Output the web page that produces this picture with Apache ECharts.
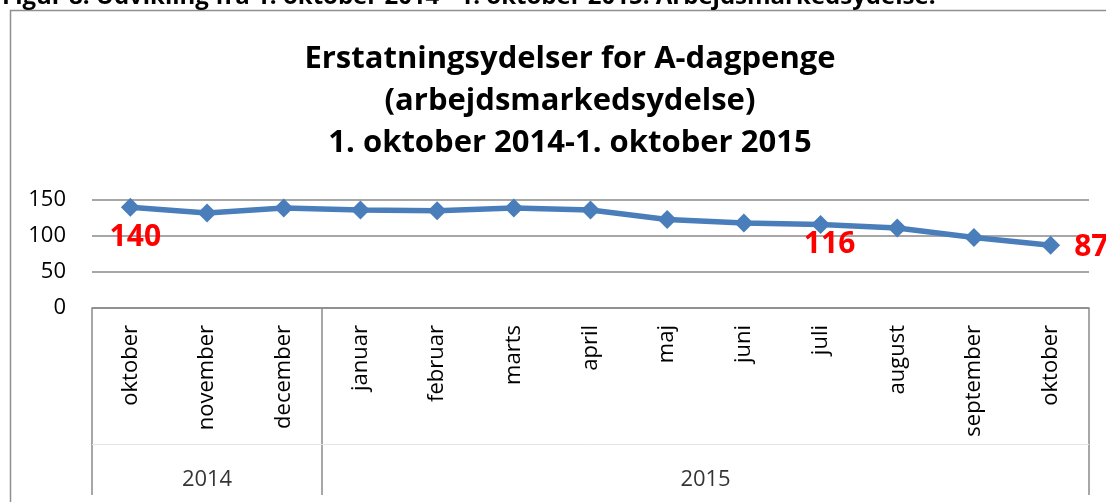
<!DOCTYPE html>
<html>
<head>
<meta charset="utf-8">
<script src="https://cdn.jsdelivr.net/npm/echarts@6/dist/echarts.min.js"></script>
<style>
  html, body { margin: 0; padding: 0; background: #fff; }
  #chart { width: 1106px; height: 502px; }
</style>
</head>
<body>
<div id="chart"></div>
<script>
// data
var months = ['oktober', 'november', 'december', 'januar', 'februar', 'marts', 'april',
  'maj', 'juni', 'juli', 'august', 'september', 'oktober'];
var values = [140, 132, 139, 136, 135, 139, 136, 123, 118, 116, 111, 98, 87];
var years = ['2014', '2015'];
var yearSpan = [3, 10]; // antal måneder pr. år
var yTicks = [0, 50, 100, 150];
var labeled = [0, 9, 12]; // punkter med rød værdi

var FONT = 'Open Sans';
var GRID_COLOR = '#8a8a8a';

// året midt i sit spænd + skillelinjer
var yearData = [];
var bounds = [0];
var acc = 0;
years.forEach(function (y, i) {
  yearData.push({ name: y, value: [acc + yearSpan[i] / 2, 0.08] });
  acc += yearSpan[i];
  bounds.push(acc);
});

var lineData = values.map(function (v, i) {
  if (labeled.indexOf(i) < 0) return v;
  var lbl = { show: true, color: '#ff0000', fontSize: 30, fontWeight: 'bold', fontFamily: FONT };
  if (i === 0) { lbl.position = 'bottom'; lbl.distance = 2; lbl.offset = [5, 4]; }
  else if (i === labeled[1]) { lbl.position = 'bottom'; lbl.distance = 0; lbl.offset = [9, -5]; }
  else { lbl.position = 'right'; lbl.distance = 14; lbl.offset = [0, 2]; }
  return { value: v, label: lbl };
});

var chart = echarts.init(document.getElementById('chart'));
chart.setOption({
  animation: false,
  backgroundColor: '#fff',
  graphic: [
    {
      type: 'rect', z: -10, silent: true,
      shape: { x: 10.5, y: 10.5, width: 1200, height: 600 },
      style: { fill: '#fff', stroke: '#8f8f8f', lineWidth: 1.5 }
    },
    {
      type: 'text', silent: true,
      style: {
        text: 'Figur 8. Udvikling fra 1. oktober 2014 - 1. oktober 2015. Arbejdsmarkedsydelse.',
        x: 2, y: 9, verticalAlign: 'bottom',
        font: 'bold 24px "Open Sans"', fill: '#000'
      }
    }
  ],
  title: {
    text: 'Erstatningsydelser for A-dagpenge\n(arbejdsmarkedsydelse)\n1. oktober 2014-1. oktober 2015',
    left: 565, top: 33, textAlign: 'center',
    textStyle: { fontFamily: FONT, fontSize: 31, fontWeight: 'bold', color: '#000', lineHeight: 42 }
  },
  grid: [
    { left: 92, right: 17, top: 200, bottom: 194 },
    { left: 92, right: 17, top: 308, bottom: 7 }
  ],
  xAxis: [
    {
      type: 'category', gridIndex: 0, data: months, boundaryGap: true,
      axisLine: { lineStyle: { color: GRID_COLOR, width: 1.5 } },
      axisTick: { show: false },
      axisLabel: { rotate: 90, margin: 17, fontFamily: FONT, fontSize: 22, color: '#000', interval: 0 }
    },
    { type: 'value', gridIndex: 1, min: 0, max: bounds[bounds.length - 1], show: false }
  ],
  yAxis: [
    {
      type: 'value', gridIndex: 0, min: yTicks[0], max: yTicks[yTicks.length - 1], interval: 50,
      axisLine: { show: false }, axisTick: { show: false },
      splitLine: { lineStyle: { color: GRID_COLOR, width: 1.5 } },
      axisLabel: { margin: 26, fontFamily: FONT, fontSize: 22, color: '#000' }
    },
    { type: 'value', gridIndex: 1, min: 0, max: 1, show: false }
  ],
  series: [
    {
      type: 'line', data: lineData,
      symbol: 'diamond', symbolSize: 19,
      lineStyle: { color: '#4a7ebb', width: 5.5 },
      itemStyle: { color: '#4a7ebb' },
      label: { show: false }
    },
    {
      type: 'scatter', xAxisIndex: 1, yAxisIndex: 1, symbolSize: 0,
      data: yearData,
      label: { show: true, position: 'inside', formatter: '{b}', fontFamily: FONT, fontSize: 22, color: '#000' },
      markLine: {
        silent: true, symbol: 'none', animation: false,
        label: { show: false },
        data: bounds.map(function (b) {
          return { xAxis: b, lineStyle: { color: GRID_COLOR, width: 1.5, type: 'solid' } };
        }).concat([{ yAxis: 0.27, lineStyle: { color: '#e4e4e4', width: 1, type: 'solid' } }])
      }
    }
  ]
});
</script>
</body>
</html>
